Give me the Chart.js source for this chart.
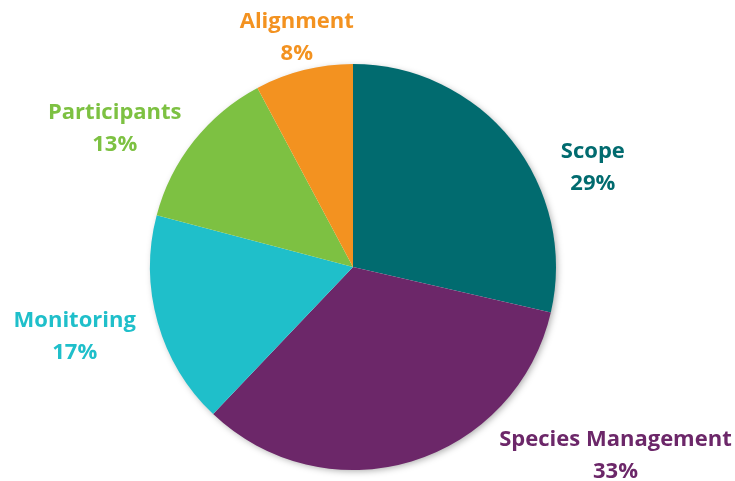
<!DOCTYPE html>
<html>
<head>
<meta charset="utf-8">
<script src="https://cdn.jsdelivr.net/npm/chart.js@4"></script>
<style>
  html, body { margin: 0; padding: 0; background: #ffffff; }
  #wrap { position: relative; width: 735px; height: 481px; }
</style>
</head>
<body>
<div id="wrap"><canvas id="c"></canvas></div>
<script>
// ---- data ----
const categories = ["Scope", "Species Management", "Monitoring", "Participants", "Alignment"];
const values = [28.6, 33.5, 17.0, 13.1, 7.8];
const percentLabels = ["29%", "33%", "17%", "13%", "8%"];
const colors = ["#016B6F", "#6C2769", "#1FBFCA", "#7DC142", "#F39220"];

// label placement relative to each slice's outer mid point (style, not data)
const labelOffsets = [[81, 27], [204, -6], [-83, 14], [-79, -12], [-7, -32]];

const shadowPlugin = {
  id: 'pieShadow',
  beforeDatasetsDraw(chart) {
    const meta = chart.getDatasetMeta(0);
    if (!meta.data.length) return;
    const arc = meta.data[0];
    const ctx = chart.ctx;
    ctx.save();
    ctx.shadowColor = 'rgba(0,0,0,0.35)';
    ctx.shadowBlur = 7;
    ctx.shadowOffsetX = 2;
    ctx.shadowOffsetY = 2;
    ctx.fillStyle = '#ffffff';
    ctx.beginPath();
    ctx.arc(arc.x, arc.y, arc.outerRadius - 1, 0, Math.PI * 2);
    ctx.fill();
    ctx.restore();
  }
};

const labelPlugin = {
  id: 'outerLabels',
  afterDatasetsDraw(chart) {
    const meta = chart.getDatasetMeta(0);
    const ctx = chart.ctx;
    ctx.save();
    ctx.font = 'bold 22px "Open Sans", sans-serif';
    ctx.textAlign = 'center';
    ctx.textBaseline = 'middle';
    meta.data.forEach((arc, i) => {
      const mid = (arc.startAngle + arc.endAngle) / 2;
      const px = arc.x + Math.cos(mid) * arc.outerRadius;
      const py = arc.y + Math.sin(mid) * arc.outerRadius;
      const cx = px + labelOffsets[i][0];
      const cy = py + labelOffsets[i][1];
      ctx.fillStyle = colors[i];
      ctx.fillText(categories[i], cx, cy - 16);
      ctx.fillText(percentLabels[i], cx, cy + 16);
    });
    ctx.restore();
  }
};

new Chart(document.getElementById('c'), {
  type: 'pie',
  data: {
    labels: categories,
    datasets: [{
      data: values,
      backgroundColor: colors,
      borderWidth: 0,
      hoverOffset: 0
    }]
  },
  options: {
    responsive: true,
    maintainAspectRatio: false,
    animation: false,
    layout: { padding: { top: 64, bottom: 11, left: 0, right: 29 } },
    plugins: {
      legend: { display: false },
      tooltip: { enabled: false }
    }
  },
  plugins: [shadowPlugin, labelPlugin]
});
</script>
</body>
</html>
